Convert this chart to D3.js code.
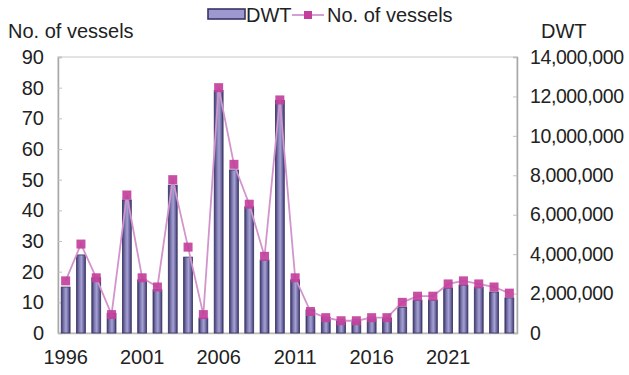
<!DOCTYPE html>
<html>
<head>
<meta charset="utf-8">
<script src="https://cdn.jsdelivr.net/npm/d3@7"></script>
<style>
  html, body { margin: 0; padding: 0; background: #fff; }
  svg text { font-family: "Liberation Sans", Arial, sans-serif; fill: #222; }
</style>
</head>
<body>
<svg id="chart" width="629" height="375"></svg>
<script>
// Annual vessel counts and deadweight tonnage, 1996-2025
const years = d3.range(1996, 2026);
const vessels = [17, 29, 18, 6, 45, 18, 15, 50, 28, 6,
                 80, 55, 42, 25, 76, 18, 7, 5, 4, 4,
                 5, 5, 10, 12, 12, 16, 17, 16, 15, 13];
const dwt = [2330000, 3960000, 2800000, 1000000, 6750000, 2700000, 2200000, 7500000, 3850000, 760000,
             12300000, 8270000, 6400000, 3700000, 11800000, 2700000, 1170000, 800000, 660000, 660000,
             800000, 760000, 1300000, 1670000, 1670000, 2280000, 2430000, 2330000, 2080000, 1780000];
const leftTicks = [0, 10, 20, 30, 40, 50, 60, 70, 80, 90];
const rightTicks = [0, 2000000, 4000000, 6000000, 8000000, 10000000, 12000000, 14000000];
const xLabels = [1996, 2001, 2006, 2011, 2016, 2021];

const svg = d3.select("#chart");
const plotL = 58, plotR = 517, plotT = 57, plotB = 333;

const x = d3.scaleBand().domain(years).range([plotL, plotR]).paddingInner(0.42).paddingOuter(0.21);
const yL = d3.scaleLinear().domain([0, 90]).range([plotB, plotT]);
const yR = d3.scaleLinear().domain([0, 14000000]).range([plotB, plotT]);

// horizontal shading for the bars
const defs = svg.append("defs");
const grad = defs.append("linearGradient").attr("id", "barGrad").attr("x1", "0").attr("x2", "1").attr("y1", "0").attr("y2", "0");
grad.append("stop").attr("offset", "0").attr("stop-color", "#3d3869");
grad.append("stop").attr("offset", "0.3").attr("stop-color", "#7f7bb3");
grad.append("stop").attr("offset", "0.55").attr("stop-color", "#a5a2d2");
grad.append("stop").attr("offset", "0.8").attr("stop-color", "#6f6aa3");
grad.append("stop").attr("offset", "1").attr("stop-color", "#3d3869");

// plot frame
svg.append("rect").attr("x", plotL).attr("y", plotT).attr("width", plotR - plotL).attr("height", plotB - plotT)
  .attr("fill", "none").attr("stroke", "#c8c8c8").attr("stroke-width", 1);

// axes
const axL = svg.append("g").attr("transform", `translate(${plotL},0)`)
  .call(d3.axisLeft(yL).tickValues(leftTicks).tickSize(-4).tickPadding(14));
const axR = svg.append("g").attr("transform", `translate(${plotR},0)`)
  .call(d3.axisRight(yR).tickValues(rightTicks).tickSize(-4).tickPadding(13).tickFormat(d3.format(",")));
const axB = svg.append("g").attr("transform", `translate(0,${plotB})`)
  .call(d3.axisBottom(x).tickValues(xLabels).tickSize(0).tickPadding(17));
[axL, axR, axB].forEach(g => {
  g.select(".domain").attr("stroke", "#a8a8a8").attr("stroke-width", 1.5);
  g.selectAll(".tick line").attr("stroke", "#c0c0c0");
  g.selectAll("text").attr("font-size", 20).attr("fill", "#222")
    .attr("font-family", "Liberation Sans, Arial, sans-serif");
});
axR.selectAll("text").attr("font-size", 19.5).attr("letter-spacing", -0.4);
axB.select(".domain").attr("stroke", "#bbb");

// bars (DWT, right axis)
svg.append("g").selectAll("rect").data(years).join("rect")
  .attr("x", (d) => x(d))
  .attr("width", x.bandwidth())
  .attr("y", (d, i) => yR(dwt[i]))
  .attr("height", (d, i) => plotB - yR(dwt[i]))
  .attr("fill", "url(#barGrad)")
  .attr("stroke", "#3a3464").attr("stroke-width", 0.8);

// line (No. of vessels, left axis)
const cx = (d) => x(d) + x.bandwidth() / 2;
const line = d3.line().x((d) => cx(d)).y((d, i) => yL(vessels[i]));
svg.append("path").datum(years).attr("d", line)
  .attr("fill", "none").attr("stroke", "#d294cd").attr("stroke-width", 1.8);
svg.append("g").selectAll("rect").data(years).join("rect")
  .attr("x", (d) => cx(d) - 4.5).attr("y", (d, i) => yL(vessels[i]) - 4.5)
  .attr("width", 9).attr("height", 9)
  .attr("fill", "#c2409c").attr("opacity", 0.92);

// axis titles
svg.append("text").attr("x", 8).attr("y", 38).attr("font-size", 20).text("No. of vessels");
svg.append("text").attr("x", 541).attr("y", 38).attr("font-size", 20).text("DWT");

// legend
const lg = svg.append("g");
lg.append("rect").attr("x", 208).attr("y", 9).attr("width", 37).attr("height", 10)
  .attr("fill", "#9d99d0").attr("stroke", "#3a3464").attr("stroke-width", 1.6);
lg.append("text").attr("x", 246).attr("y", 22).attr("font-size", 20).text("DWT");
lg.append("line").attr("x1", 292).attr("x2", 324).attr("y1", 15).attr("y2", 15)
  .attr("stroke", "#d294cd").attr("stroke-width", 1.8);
lg.append("rect").attr("x", 304).attr("y", 11).attr("width", 8).attr("height", 8).attr("fill", "#c2409c");
lg.append("text").attr("x", 327).attr("y", 22).attr("font-size", 20).text("No. of vessels");
</script>
</body>
</html>
